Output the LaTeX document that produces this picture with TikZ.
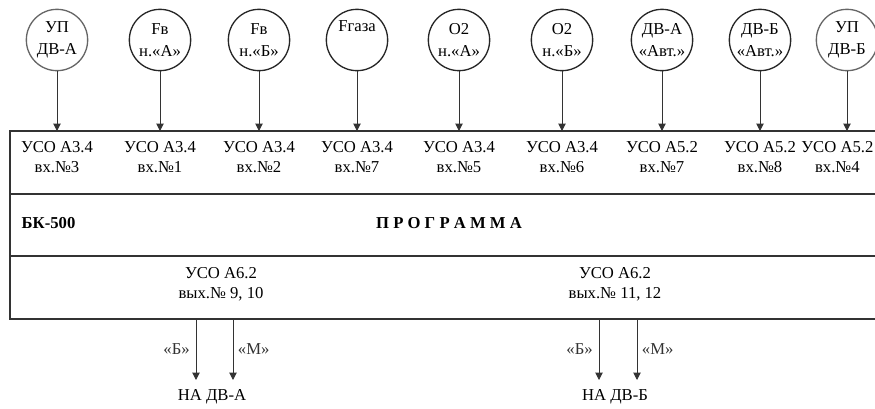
\documentclass[tikz,border=0pt]{standalone}
\usepackage{fontspec}
\setmainfont{Liberation Serif}
\usetikzlibrary{arrows.meta}
\tikzset{
  sensor/.style={draw=black!85, circle, line width=1pt, minimum size=46pt, inner sep=0pt,
    align=center, font=\fontsize{12.5}{16.5}\selectfont},
  usoin/.style={align=center, font=\fontsize{12.5}{15}\selectfont},
  sig/.style={-{Triangle[length=5.5pt,width=5.5pt]}, line width=0.75pt, black!80},
  frame/.style={line width=1pt, black!80},
  lbl/.style={font=\fontsize{12.5}{15}\selectfont}
}

\begin{document}
\begin{tikzpicture}[x=0.75pt,y=-0.75pt]
			%%%%% START %%%%%
			\useasboundingbox (0,0) rectangle (875,408);
			
			% block BK-500
			\draw[frame] (875,131) -- (10,131) -- (10,319) -- (875,319);
			\draw[frame] (10,194) -- (875,194);
			\draw[frame] (10,256) -- (875,256);
			\coordinate (top) at (10,131);
			\coordinate (bot) at (10,319);
			
			% sensors
			\node[sensor, draw=black!60] (s1) at (57,40) {УП\\ДВ-А};
			\node[sensor] (s2) at (160,40) {Fв\\н.«А»};
			\node[sensor] (s3) at (259,40) {Fв\\н.«Б»};
			\node[sensor] (s4) at (357,40) {Fгаза\\\strut};
			\node[sensor] (s5) at (459,40) {O2\\н.«А»};
			\node[sensor] (s6) at (562,40) {O2\\н.«Б»};
			\node[sensor] (s7) at (662,40) {ДВ-А\\«Авт.»};
			\node[sensor] (s8) at (760,40) {ДВ-Б\\«Авт.»};
			\node[sensor, draw=black!60] (s9) at (847,40) {УП\\ДВ-Б};
			
			% inputs
			\node[usoin] (in1) at (57,157) {УСО А3.4\\вх.№3};
			\node[usoin] (in2) at (160,157) {УСО А3.4\\вх.№1};
			\node[usoin] (in3) at (259,157) {УСО А3.4\\вх.№2};
			\node[usoin] (in4) at (357,157) {УСО А3.4\\вх.№7};
			\node[usoin] (in5) at (459,157) {УСО А3.4\\вх.№5};
			\node[usoin] (in6) at (562,157) {УСО А3.4\\вх.№6};
			\node[usoin] (in7) at (662,157) {УСО А5.2\\вх.№7};
			\node[usoin] (in8) at (760,157) {УСО А5.2\\вх.№8};
			\node[usoin, anchor=east, inner sep=1pt] (in9) at (875,157) {УСО А5.2\\вх.№4};
			
			\draw[sig] (s1) -- (s1 |- top);
			\draw[sig] (s2) -- (s2 |- top);
			\draw[sig] (s3) -- (s3 |- top);
			\draw[sig] (s4) -- (s4 |- top);
			\draw[sig] (s5) -- (s5 |- top);
			\draw[sig] (s6) -- (s6 |- top);
			\draw[sig] (s7) -- (s7 |- top);
			\draw[sig] (s8) -- (s8 |- top);
			\draw[sig] (s9) -- (s9 |- top);
			
			% program row
			\node[anchor=west, lbl, font=\fontsize{12.5}{15}\selectfont\bfseries] (bk) at (17,223) {БК-500};
			\node[lbl, font=\fontsize{12.5}{15}\selectfont\bfseries] (prog) at (449,223) {П Р О Г Р А М М А};
			
			% outputs
			\node[usoin] (out1) at (221,284) {УСО А6.2\\вых.№ 9, 10};
			\node[usoin] (out2) at (615,284) {УСО А6.2\\вых.№ 11, 12};
			
			\node[lbl] (dvA) at (212,397) {НА ДВ-А};
			\node[lbl] (dvB) at (615,397) {НА ДВ-Б};
			
			\coordinate (aB) at (196,380);
			\coordinate (aM) at (233,380);
			\coordinate (bB) at (599,380);
			\coordinate (bM) at (637,380);
			
			\draw[sig] (aB |- bot) -- (aB) node[midway, left=1pt, lbl] (lab1) {«Б»};
			\draw[sig] (aM |- bot) -- (aM) node[midway, right=0pt, lbl] (lab2) {«М»};
			\draw[sig] (bB |- bot) -- (bB) node[midway, left=1pt, lbl] (lab3) {«Б»};
			\draw[sig] (bM |- bot) -- (bM) node[midway, right=0pt, lbl] (lab4) {«М»};
			
			%%%%% END %%%%%
\end{tikzpicture}
\end{document}
